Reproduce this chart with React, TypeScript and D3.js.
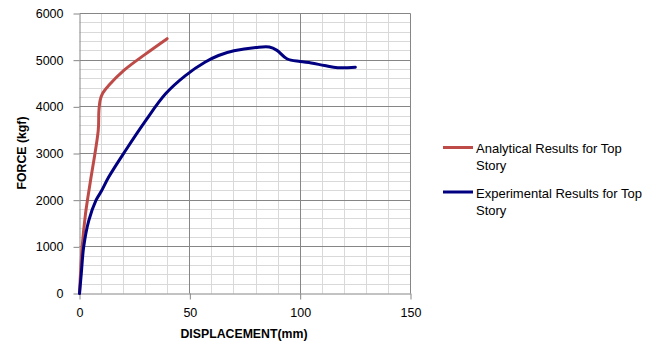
import React, { useRef, useEffect } from 'react';
import { select, scaleLinear, axisLeft, axisBottom, line, curveCatmullRom, range } from 'd3';

// displacement (mm) / force (kgf)
const analyticalDisp = [0, 1.2, 2.7, 3.6, 5, 8.5, 8.8, 9.4, 10.5, 13.3, 20.1, 29.9, 39.7];
const analyticalForce = [0, 1000, 1700, 2000, 2420, 3500, 3920, 4150, 4290, 4460, 4780, 5130, 5460];

const experimentalDisp = [0, 0.8, 1.9, 4.2, 7.5, 10, 13.3, 20.8, 29.9, 39, 48, 57, 63, 70, 80, 86, 89.5, 94, 100, 105, 111, 117, 125];
const experimentalForce = [0, 420, 1000, 1560, 2000, 2200, 2500, 3060, 3700, 4280, 4670, 4960, 5100, 5200, 5270, 5280, 5210, 5030, 4970, 4940, 4886, 4840, 4850];

const xTicks = [0, 50, 100, 150];
const yTicks = [0, 1000, 2000, 3000, 4000, 5000, 6000];

const seriesNames = ['Analytical Results for Top Story', 'Experimental Results for Top Story'];
const seriesColors = ['#BE4B48', '#000080'];

const FONT = '"Liberation Sans", Arial, sans-serif';

export default function App() {
  const svgRef = useRef<SVGSVGElement>(null);

  useEffect(() => {
    const svg = select(svgRef.current);
    svg.selectAll('*').remove();

    const x = scaleLinear().domain([0, 150]).range([79.5, 410.5]);
    const y = scaleLinear().domain([0, 6000]).range([293.5, 13.5]);

    // grid: minor lines first, major (every 1000 kgf / 50 mm) on top
    const hLines = range(200, 6001, 200);
    const vLines = range(10, 151, 10);
    const grid = svg.append('g');
    [false, true].forEach(major => {
      grid.selectAll(null)
        .data(hLines.filter(d => (d % 1000 === 0) === major))
        .join('line')
        .attr('x1', x(0)).attr('x2', x(150))
        .attr('y1', d => Math.round(y(d) - 0.5) + 0.5).attr('y2', d => Math.round(y(d) - 0.5) + 0.5)
        .attr('stroke', major ? '#868686' : '#d9d9d9');
      grid.selectAll(null)
        .data(vLines.filter(d => (d % 50 === 0) === major))
        .join('line')
        .attr('y1', y(0)).attr('y2', y(6000))
        .attr('x1', d => Math.round(x(d) - 0.5) + 0.5).attr('x2', d => Math.round(x(d) - 0.5) + 0.5)
        .attr('stroke', major ? '#868686' : '#d9d9d9');
    });

    const yAxis = axisLeft(y).tickValues(yTicks).tickFormat(d => String(d)).tickSize(6).tickSizeOuter(0).tickPadding(10);
    const xAxis = axisBottom(x).tickValues(xTicks).tickFormat(d => String(d)).tickSize(6).tickSizeOuter(0).tickPadding(9);

    const gy = svg.append('g').call(yAxis);
    const gx = svg.append('g').attr('transform', `translate(0,${y(0)})`).call(xAxis);
    gy.attr('transform', `translate(${x(0)},0)`);

    [gy, gx].forEach(g => {
      g.select('.domain').attr('stroke', '#868686');
      g.selectAll('.tick line').attr('stroke', '#868686');
      g.selectAll('.tick text')
        .attr('fill', '#000')
        .style('font-family', FONT)
        .style('font-size', '12.5px');
    });

    // axis titles
    svg.append('text')
      .attr('x', 244).attr('y', 337.5)
      .attr('text-anchor', 'middle')
      .style('font-family', FONT).style('font-size', '12.3px').style('font-weight', 'bold')
      .text('DISPLACEMENT(mm)');
    svg.append('text')
      .attr('transform', 'translate(26,153) rotate(-90)')
      .attr('text-anchor', 'middle')
      .style('font-family', FONT).style('font-size', '12.3px').style('font-weight', 'bold')
      .text('FORCE (kgf)');

    const lineGen = line<[number, number]>()
      .x(d => x(d[0]))
      .y(d => y(d[1]))
      .curve(curveCatmullRom.alpha(0.5));

    const series = [
      analyticalDisp.map((d, i) => [d, analyticalForce[i]] as [number, number]),
      experimentalDisp.map((d, i) => [d, experimentalForce[i]] as [number, number]),
    ];

    svg.selectAll('.series')
      .data(series)
      .join('path')
      .attr('class', 'series')
      .attr('d', d => lineGen(d))
      .attr('fill', 'none')
      .attr('stroke', (_, i) => seriesColors[i])
      .attr('stroke-width', 3)
      .attr('stroke-linejoin', 'round')
      .attr('stroke-linecap', 'round');

    // legend
    const legendY = [147.5, 192];
    const legend = svg.selectAll('.legend')
      .data(seriesNames)
      .join('g')
      .attr('class', 'legend')
      .attr('transform', (_, i) => `translate(443,${legendY[i]})`);
    legend.append('line')
      .attr('x1', 0).attr('x2', 30)
      .attr('stroke', (_, i) => seriesColors[i])
      .attr('stroke-width', 3);
    legend.append('text')
      .attr('x', 33).attr('y', 5.5)
      .style('font-family', FONT).style('font-size', '13px')
      .text(d => d.replace(/ Story$/, ''));
    legend.append('text')
      .attr('x', 33).attr('y', 22.5)
      .style('font-family', FONT).style('font-size', '13px')
      .text('Story');
  }, []);

  return (
    <div style={{ position: 'absolute', left: 0, top: 0 }}>
      <svg ref={svgRef} width={662} height={344} style={{ display: 'block', background: '#fff' }} />
    </div>
  );
}
